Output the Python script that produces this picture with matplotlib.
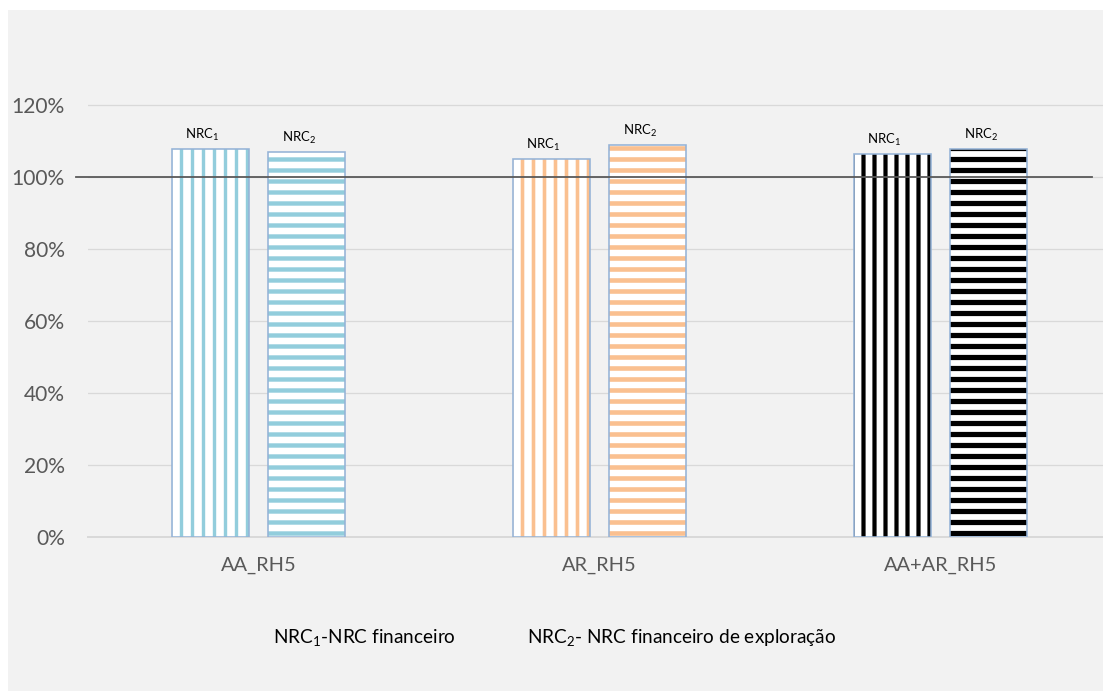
import matplotlib
matplotlib.use("Agg")
import matplotlib.pyplot as plt
from matplotlib.patches import Rectangle
from matplotlib import transforms
import numpy as np

# ---------------- data ----------------
categories = ["AA_RH5", "AR_RH5", "AA+AR_RH5"]
nrc1 = [1.078, 1.050, 1.064]
nrc2 = [1.069, 1.089, 1.078]
series_labels = [r"NRC$_\mathrm{1}$", r"NRC$_\mathrm{2}$"]
y_ticks = [0, 0.2, 0.4, 0.6, 0.8, 1.0, 1.2]
y_tick_labels = ["0%", "20%", "40%", "60%", "80%", "100%", "120%"]
reference_value = 1.0
legend_texts = [r"NRC$_\mathrm{1}$-NRC financeiro",
                r"NRC$_\mathrm{2}$- NRC financeiro de exploração"]

# ---------------- style ----------------
stripe_colors = ["#92CDDC", "#FAC090", "#000000"]
stripe_widths_v = [3.4, 3.6, 4.2]
stripe_widths_h = [4.4, 4.6, 5.2]
outline_color = "#95B3D7"

DPI = 200 / 3
W, H = 1103, 691
def pt(px):
    return px * 72 / DPI

plt.rcParams["font.family"] = ["Lato", "DejaVu Sans"]
plt.rcParams["mathtext.fontset"] = "custom"
plt.rcParams["mathtext.rm"] = "Lato"
plt.rcParams["mathtext.it"] = "Lato:italic"
plt.rcParams["mathtext.bf"] = "Lato:bold"

fig = plt.figure(figsize=(W / DPI, H / DPI), dpi=DPI, facecolor="white")
fig.patches.append(Rectangle((8 / W, 0), 1, 1 - 10 / H, transform=fig.transFigure,
                             facecolor="#F2F2F2", edgecolor="none", zorder=-10))

ax_left, ax_right = 88, 1103
ax_bottom, ax_top = 537, 60
ax = fig.add_axes([ax_left / W, 1 - ax_bottom / H, (ax_right - ax_left) / W,
                   (ax_bottom - ax_top) / H])
ax.set_facecolor("none")

cat_px = 341.0
x = np.arange(len(categories))
ax.set_xlim(-0.5, -0.5 + (ax_right - ax_left) / cat_px)
ax.set_ylim(0, 1.2 * (ax_bottom - ax_top) / (537 - 105))

bw = 0.226
off = 0.1415

def draw_bars(xs, vals, hatch, labels_txt, widths):
    for i, (xx, v) in enumerate(zip(xs, vals)):
        with plt.rc_context({"hatch.linewidth": pt(widths[i])}):
            b = ax.bar(xx, v, width=bw, facecolor="white", edgecolor=stripe_colors[i],
                       linewidth=0, hatch=hatch, zorder=2)
        for p in b.patches:
            if hasattr(p, "set_hatch_linewidth"):
                p.set_hatch_linewidth(pt(widths[i]))
        ax.bar(xx, v, width=bw, fill=False, edgecolor=outline_color,
               linewidth=pt(1.6), zorder=3)
        ax.annotate(labels_txt, (xx, v), xytext=(pt(-8), pt(6)),
                    textcoords="offset points", ha="center", va="bottom",
                    fontsize=pt(13.2), color="black")

draw_bars(x - off, nrc1, "|", series_labels[0], stripe_widths_v)
draw_bars(x + off, nrc2, "-", series_labels[1], stripe_widths_h)

# gridlines
ax.set_yticks(y_ticks)
ax.set_yticklabels(y_tick_labels)
ax.yaxis.grid(True, color="#D9D9D9", linewidth=pt(1.3), zorder=0)
ax.set_axisbelow(True)
for s in ["top", "right", "left"]:
    ax.spines[s].set_visible(False)
ax.spines["bottom"].set_color("#D9D9D9")
ax.spines["bottom"].set_linewidth(pt(2))
ax.spines["bottom"].set_zorder(1)
ax.tick_params(axis="y", length=0, pad=pt(23), labelsize=pt(21), labelcolor="#595959")
ax.set_xticks(x)
ax.set_xticklabels(categories)
ax.tick_params(axis="x", length=0, pad=pt(20), labelsize=pt(20), labelcolor="#595959")

# 100% reference line
trans = transforms.blended_transform_factory(fig.transFigure, ax.transData)
ax.plot([76 / W, 1092 / W], [reference_value, reference_value], transform=trans,
        color="#595959", linewidth=pt(1.8), zorder=4, clip_on=False)

# legend texts
fig.text(273 / W, 1 - 637 / H, legend_texts[0], ha="left", va="center",
         fontsize=pt(19), color="black")
fig.text(527 / W, 1 - 637 / H, legend_texts[1], ha="left", va="center",
         fontsize=pt(19), color="black")

fig.savefig("out.png", dpi=DPI, facecolor=fig.get_facecolor())
